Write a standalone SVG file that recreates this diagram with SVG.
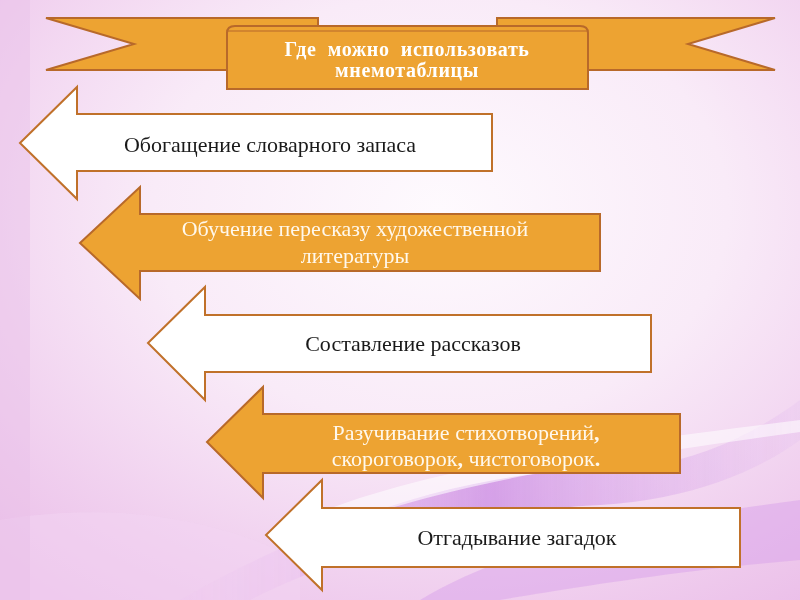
<svg xmlns="http://www.w3.org/2000/svg" width="800" height="600" viewBox="0 0 800 600">
<defs>
<radialGradient id="bg" cx="0.55" cy="0.35" r="0.8">
<stop offset="0" stop-color="#fefafe"/>
<stop offset="0.45" stop-color="#f9ebf8"/>
<stop offset="1" stop-color="#ebbfe9"/>
</radialGradient>
<linearGradient id="sw1" x1="0" y1="0" x2="1" y2="0">
<stop offset="0" stop-color="#e9b6f0" stop-opacity="0.2"/>
<stop offset="0.5" stop-color="#c27be0" stop-opacity="0.7"/>
<stop offset="1" stop-color="#e6c0f0" stop-opacity="0.3"/>
</linearGradient>
<style>
.w{fill:#ffffff;stroke:#c0712a;stroke-width:2}
.o{fill:#eda332;stroke:#b8692a;stroke-width:2}
.tb{font-family:"Liberation Serif",serif;font-size:22px;fill:#1a1a1a;text-anchor:middle}
.tw{font-family:"Liberation Serif",serif;font-size:22px;fill:#fff8ec;text-anchor:middle}
.tt{font-family:"Liberation Serif",serif;font-size:20px;font-weight:bold;fill:#ffffff;text-anchor:middle;letter-spacing:0.6px}
.bp{font-weight:bold}
</style>
</defs>
<rect width="800" height="600" fill="url(#bg)"/>
<g id="background-swooshes" opacity="0.9">
<path d="M180 600 C320 520 470 470 600 470 C690 470 760 430 800 400 L800 440 C760 470 690 500 600 505 C470 510 330 560 250 600 Z" fill="url(#sw1)"/>
<path d="M300 520 C420 470 560 450 800 420 L800 432 C560 465 420 490 300 540 Z" fill="#ffffff" opacity="0.6"/>
<path d="M420 600 C520 540 650 520 800 500 L800 560 C680 570 560 590 500 600 Z" fill="#d9a2ea" opacity="0.55"/>
<path d="M0 520 C120 500 220 520 300 560 L300 600 L0 600 Z" fill="#f2d3f1" opacity="0.6"/>
<rect x="0" y="0" width="30" height="600" fill="#eac2ea" opacity="0.5"/>
</g>
<g id="banner">
<path class="o" d="M46 18 L318 18 L318 70 L46 70 L134 44 Z"/>
<path class="o" d="M497 18 L775 18 L688 44 L775 70 L497 70 Z"/>
<path class="o" d="M227 33 Q227 26 235 26 L580 26 Q588 26 588 33 L588 89 L227 89 Z"/>
<path fill="none" stroke="#b8692a" stroke-width="1.2" d="M228 31 L587 31"/>
<text class="tt" x="407" y="56" xml:space="preserve">Где  можно  использовать</text>
<text class="tt" x="407" y="77">мнемотаблицы</text>
</g>
<g id="arrow1">
<path class="w" d="M20 143 L77 87 L77 114 L492 114 L492 171 L77 171 L77 199 Z"/>
<text class="tb" x="270" y="152">Обогащение словарного запаса</text>
</g>
<g id="arrow2">
<path class="o" d="M80 243 L140 187 L140 214 L600 214 L600 271 L140 271 L140 299 Z"/>
<text class="tw" x="355" y="236">Обучение пересказу художественной</text>
<text class="tw" x="355" y="263">литературы</text>
</g>
<g id="arrow3">
<path class="w" d="M148 343 L205 287 L205 315 L651 315 L651 372 L205 372 L205 400 Z"/>
<text class="tb" x="413" y="351">Составление рассказов</text>
</g>
<g id="arrow4">
<path class="o" d="M207 442 L263 387 L263 414 L680 414 L680 473 L263 473 L263 498 Z"/>
<text class="tw" x="466" y="440">Разучивание стихотворений<tspan class="bp">,</tspan></text>
<text class="tw" x="466" y="466">скороговорок<tspan class="bp">,</tspan> чистоговорок<tspan class="bp">.</tspan></text>
</g>
<g id="arrow5">
<path class="w" d="M266 535 L322 480 L322 508 L740 508 L740 567 L322 567 L322 590 Z"/>
<text class="tb" x="517" y="545">Отгадывание загадок</text>
</g>
</svg>
